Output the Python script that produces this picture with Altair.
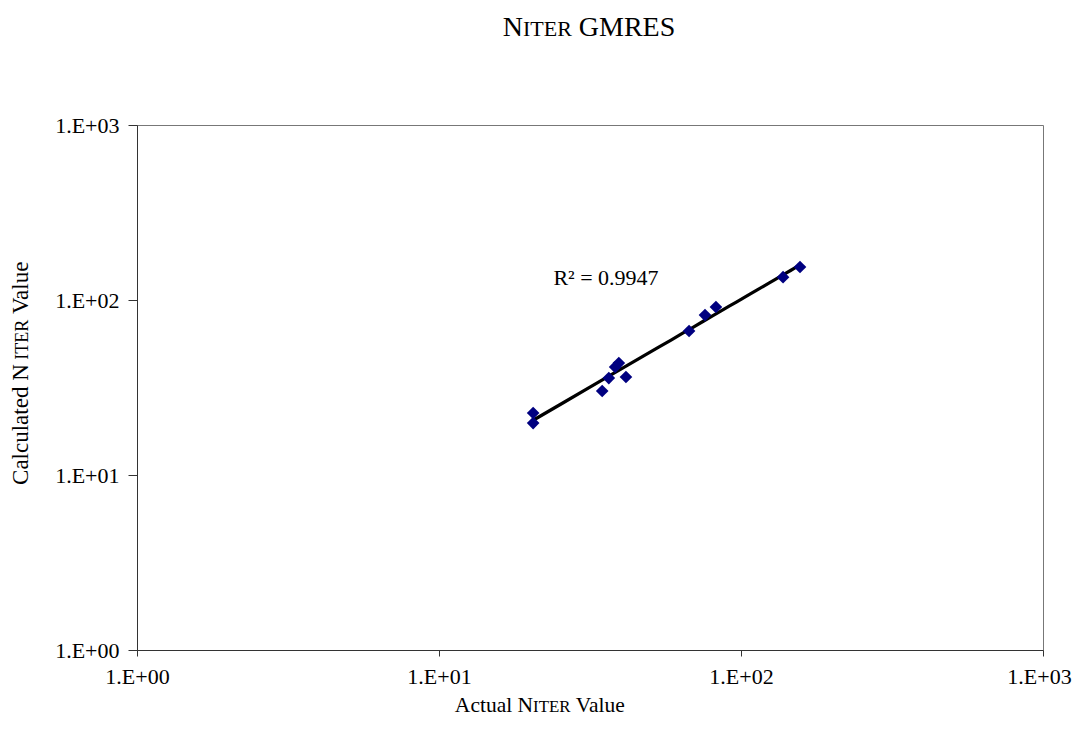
import altair as alt
import pandas as pd

actual = [20.5, 20.5, 34.7, 36.5, 38.3, 39.4, 41.6, 67.3, 76.0, 82.6, 137.8, 156.8]
calculated = [22.6, 19.8, 30.2, 35.8, 41.4, 43.6, 36.3, 66.5, 82.0, 91.2, 135.0, 154.4]
tick_values = [1, 10, 100, 1000]
tick_labels = ["1.E+00", "1.E+01", "1.E+02", "1.E+03"]
r2_label = "R\u00b2 = 0.9947"

df = pd.DataFrame({"actual": actual, "calculated": calculated})

FONT = "Liberation Serif"
W, H = 906, 525
LEFT, TOP = 137, 125  # absolute page position of plot area

label_expr = ("datum.value == 1 ? '%s' : datum.value == 10 ? '%s' : datum.value == 100 ? '%s' : '%s'"
              % tuple(tick_labels))

xscale = alt.Scale(type="log", domain=[1, 1000], nice=False)
yscale = alt.Scale(type="log", domain=[1, 1000], nice=False)

xaxis = alt.Axis(values=tick_values, labelExpr=label_expr, grid=False, title=None,
                 labelFont=FONT, labelFontSize=22, labelColor="black", labelPadding=10,
                 labelOffset={"condition": {"test": "datum.value == 1000", "value": -4}, "value": 0},
                 tickSize=6, tickColor="#333", domainColor="#333", labelFlush=False)
yaxis = alt.Axis(values=tick_values, labelExpr=label_expr, grid=False, title=None,
                 labelFont=FONT, labelFontSize=22, labelColor="black", labelPadding=9,
                 tickSize=9, tickColor="#333", domainColor="#333", labelFlush=False)

base = alt.Chart(df)

points = base.mark_point(shape="diamond", filled=True, size=160, color="#000080", opacity=1).encode(
    x=alt.X("actual:Q", scale=xscale, axis=xaxis),
    y=alt.Y("calculated:Q", scale=yscale, axis=yaxis),
)

trend = base.transform_regression("actual", "calculated", method="pow").mark_line(
    color="black", strokeWidth=3.2
).encode(
    x=alt.X("actual:Q", scale=xscale),
    y=alt.Y("calculated:Q", scale=yscale),
)

# Times-like glyph widths (per 1000 em) for laying out small-caps title pieces
WID = {"A": 722, "c": 444, "t": 278, "u": 500, "a": 444, "l": 278, " ": 250, "N": 722,
       "I": 333, "T": 611, "E": 611, "R": 667, "V": 722, "e": 444, "C": 667, "d": 500,
       "G": 722, "M": 889, "S": 556}


def width(s, size):
    return sum(WID.get(ch, 500) for ch in s) * size / 1000.0


def txt(s, x, y, size, angle=0):
    return alt.Chart(pd.DataFrame({"t": [s.strip()]})).mark_text(
        font=FONT, fontSize=size, align="left", baseline="alphabetic", angle=angle, color="black"
    ).encode(x=alt.value(x - LEFT), y=alt.value(y - TOP), text="t:N")


def lead(s, size):
    # width of leading spaces (SVG drops them, so shift the anchor instead)
    n = len(s) - len(s.lstrip(" "))
    return n * 250 * size / 1000.0


def hrow(parts, cx, base_y):
    total = sum(width(s, f) for s, f in parts)
    x = cx - total / 2
    out = []
    for s, f in parts:
        out.append(txt(s, x + lead(s, f), base_y, f))
        x += width(s, f)
    return out


def vrow(parts, cy, base_x):
    total = sum(width(s, f) for s, f in parts)
    y = cy + total / 2
    out = []
    for s, f in parts:
        out.append(txt(s, base_x, y - lead(s, f), f, angle=270))
        y -= width(s, f)
    return out


title_parts = hrow([("N", 28), ("ITER", 22), (" GMRES", 28)], 589, 36)
xtitle_parts = hrow([("Actual N", 21.5), ("ITER", 16.8), (" Value", 21.5)], 541, 712)
ytitle_parts = vrow([("Calculated N", 23), (" ITER", 18), (" Value", 23)], 372, 28)

r2 = alt.Chart(pd.DataFrame({"t": [r2_label]})).mark_text(
    font=FONT, fontSize=22, align="center", baseline="alphabetic", color="black"
).encode(x=alt.value(606 - LEFT), y=alt.value(285 - TOP), text="t:N")

chart = alt.layer(trend, points, r2, *title_parts, *xtitle_parts, *ytitle_parts).properties(
    width=W, height=H,
    autosize=alt.AutoSizeParams(type="none"),
    padding={"left": LEFT - 8, "top": TOP - 8, "right": 30, "bottom": 80},
).configure(background="white").configure_view(stroke="#777777", strokeWidth=1)

chart.save("out.html", embed_options={"renderer": "svg", "actions": False})
